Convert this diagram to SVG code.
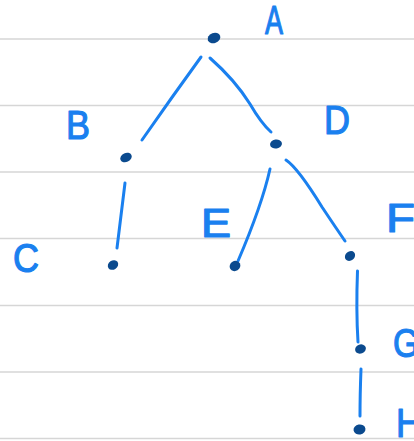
<svg xmlns="http://www.w3.org/2000/svg" width="414" height="441" viewBox="0 0 414 441">
<style>
.rule{stroke:#d6d6d6;stroke-width:1.6}
.edge{fill:none;stroke:#1a80ef;stroke-width:3;stroke-linecap:round;stroke-linejoin:round}
.dot{fill:#0b4a8e}
.lbl{font-family:"Liberation Sans",Arial,sans-serif;font-size:40px;fill:#1a80ef;stroke:#1a80ef;stroke-width:1.2;stroke-linejoin:round}
</style>
<rect width="414" height="441" fill="#ffffff"/>
<g id="paper">
<line class="rule" x1="0" y1="39" x2="414" y2="39"/>
<line class="rule" x1="0" y1="105.5" x2="414" y2="105.5"/>
<line class="rule" x1="0" y1="172" x2="414" y2="172"/>
<line class="rule" x1="0" y1="238.5" x2="414" y2="238.5"/>
<line class="rule" x1="0" y1="305.5" x2="414" y2="305.5"/>
<line class="rule" x1="0" y1="372" x2="414" y2="372"/>
<line class="rule" x1="0" y1="438.5" x2="414" y2="438.5"/>
</g>
<g id="connectors">
<path class="edge" d="M201 57 Q172 97 142 140"/>
<path class="edge" d="M210 58 Q235 80 250 104 Q261 123 271 132"/>
<path class="edge" d="M125 183 L117 248"/>
<path class="edge" d="M270 169 Q262 205 238 261"/>
<path class="edge" d="M286 160 Q298 168 322 207 Q336 228 345 241"/>
<path class="edge" d="M357.5 271 Q356 310 358 342"/>
<path class="edge" d="M361 369 Q360 395 360 416"/>
</g>
<g id="node-A"><ellipse class="dot" cx="214" cy="38" rx="6.5" ry="5" transform="rotate(-20 214 38)"/><text class="lbl" x="265" y="34" textLength="18" lengthAdjust="spacingAndGlyphs">A</text></g>
<g id="node-B"><ellipse class="dot" cx="126" cy="157.5" rx="6" ry="4.5" transform="rotate(-25 126 157.5)"/><text class="lbl" x="66" y="139" textLength="24" lengthAdjust="spacingAndGlyphs">B</text></g>
<g id="node-D"><ellipse class="dot" cx="276" cy="144" rx="6" ry="4.5" transform="rotate(-10 276 144)"/><text class="lbl" x="324" y="134" textLength="26" lengthAdjust="spacingAndGlyphs">D</text></g>
<g id="node-C"><ellipse class="dot" cx="113" cy="265" rx="5.5" ry="4.5" transform="rotate(-35 113 265)"/><text class="lbl" x="13" y="272" textLength="26" lengthAdjust="spacingAndGlyphs">C</text></g>
<g id="node-E"><ellipse class="dot" cx="235" cy="266" rx="5.5" ry="5" transform="rotate(-30 235 266)"/><text class="lbl" x="201" y="237" textLength="30" lengthAdjust="spacingAndGlyphs">E</text></g>
<g id="node-F"><ellipse class="dot" cx="350" cy="256" rx="5.5" ry="4.5" transform="rotate(-40 350 256)"/><text class="lbl" x="386" y="232" textLength="29" lengthAdjust="spacingAndGlyphs">F</text></g>
<g id="node-G"><ellipse class="dot" cx="360.5" cy="349" rx="5.5" ry="4.5" transform="rotate(-20 360.5 349)"/><text class="lbl" x="393" y="357" font-size="35" textLength="26" lengthAdjust="spacingAndGlyphs">G</text></g>
<g id="node-H"><ellipse class="dot" cx="359.5" cy="429.5" rx="6" ry="5" transform="rotate(-10 359.5 429.5)"/><text class="lbl" x="396" y="437" textLength="26" lengthAdjust="spacingAndGlyphs">H</text></g>
</svg>
